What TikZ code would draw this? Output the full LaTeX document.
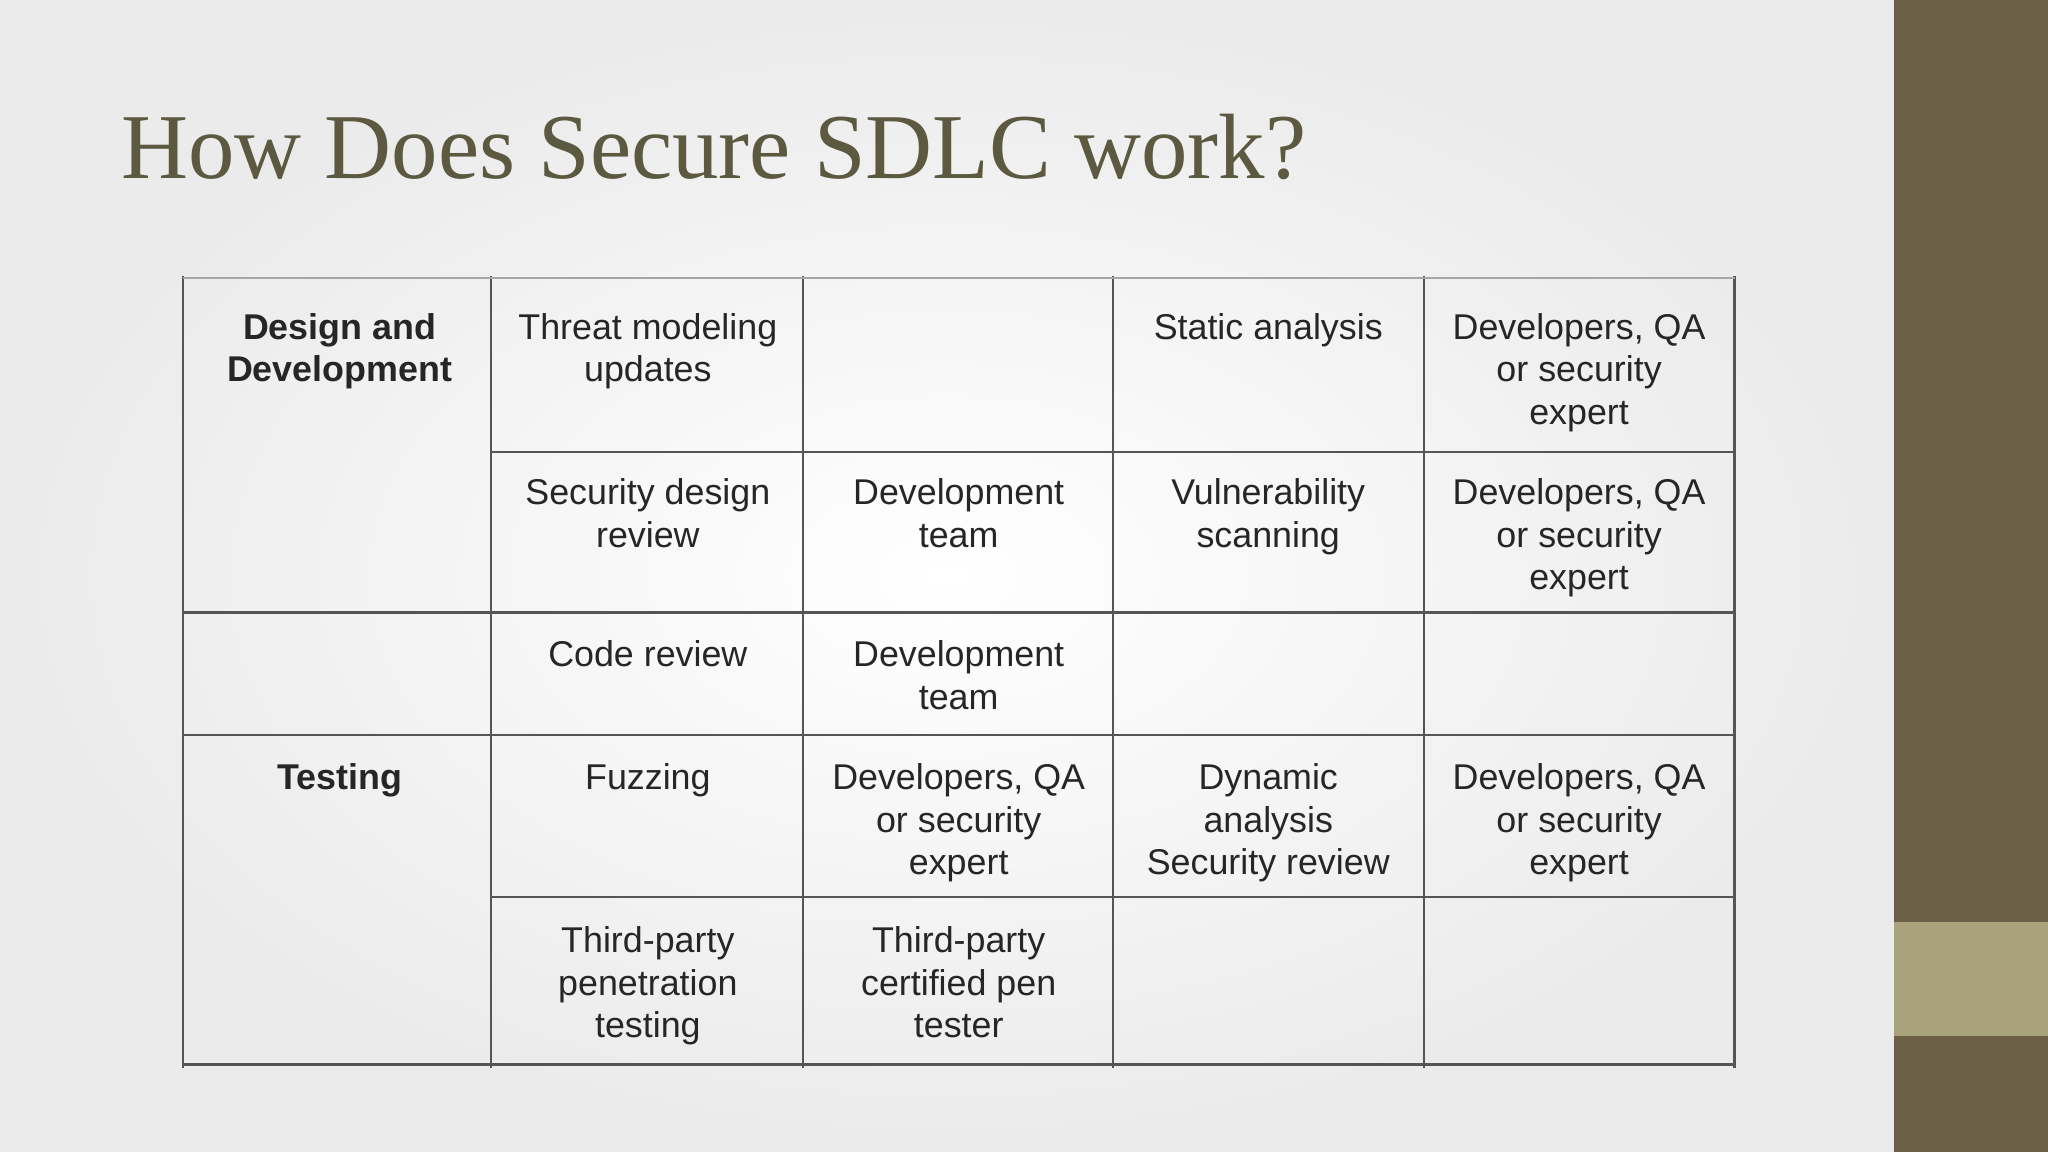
\documentclass[tikz,border=0pt]{standalone}
\usepackage{fontspec}
\setmainfont{Liberation Serif}
\newfontfamily\cellfont{Liberation Sans}
\definecolor{olive}{HTML}{6B5F47}
\definecolor{band}{HTML}{A8A37A}
\definecolor{titlec}{HTML}{5B5940}
\definecolor{gridc}{HTML}{555555}
\tikzset{
 cell/.style={anchor=north,align=center,font=\cellfont\fontsize{7.8}{9.25}\selectfont,text=black!85,inner sep=0pt},
 hcell/.style={cell,font=\cellfont\bfseries\fontsize{7.8}{9.25}\selectfont},
 gl/.style={draw=gridc,line width=0.5pt}
}
\begin{document}
\begin{tikzpicture}[x=0.01cm,y=-0.01cm]
\useasboundingbox (0,0) rectangle (1568,882);
\shade[inner color=white,outer color=black!8] (0,0) rectangle (1450,882);
\fill[olive] (1450,0) rectangle (1568,882);
\fill[band] (1450,706) rectangle (1568,793);
\node[anchor=base west,inner sep=0pt,text=titlec,font=\fontsize{20.2}{24}\selectfont] (title) at (92,137) {How Does Secure SDLC work?};
% grid
\foreach \x in {140,376,615,852,1090,1328} \draw[gl] (\x,211) -- (\x,818);
\draw[gl,draw=black!35] (140,213) -- (1328,213);
\draw[gl] (376,346) -- (1328,346);
\draw[gl] (140,469) -- (1328,469);
\draw[gl] (140,563) -- (1328,563);
\draw[gl] (376,687) -- (1328,687);
\draw[gl] (140,815) -- (1328,815);
% row 1
\node[hcell] (dd) at (260,239) {Design and\\Development};
\node[cell] (tm) at (496,239) {Threat modeling\\updates};
\node[cell] (sa) at (971,239) {Static analysis};
\node[cell] (d1) at (1209,239) {Developers, QA\\or security\\expert};
% row 2
\node[cell] (sd) at (496,366) {Security design\\review};
\node[cell] (dt1) at (734,366) {Development\\team};
\node[cell] (vs) at (971,366) {Vulnerability\\scanning};
\node[cell] (d2) at (1209,366) {Developers, QA\\or security\\expert};
% row 3
\node[cell] (cr) at (496,490) {Code review};
\node[cell] (dt2) at (734,490) {Development\\team};
% row 4
\node[hcell] (te) at (260,584) {Testing};
\node[cell] (fz) at (496,584) {Fuzzing};
\node[cell] (d3) at (734,584) {Developers, QA\\or security\\expert};
\node[cell] (da) at (971,584) {Dynamic\\analysis\\Security review};
\node[cell] (d4) at (1209,584) {Developers, QA\\or security\\expert};
% row 5
\node[cell] (tp) at (496,709) {Third-party\\penetration\\testing};
\node[cell] (tc) at (734,709) {Third-party\\certified pen\\tester};
\end{tikzpicture}
\end{document}
